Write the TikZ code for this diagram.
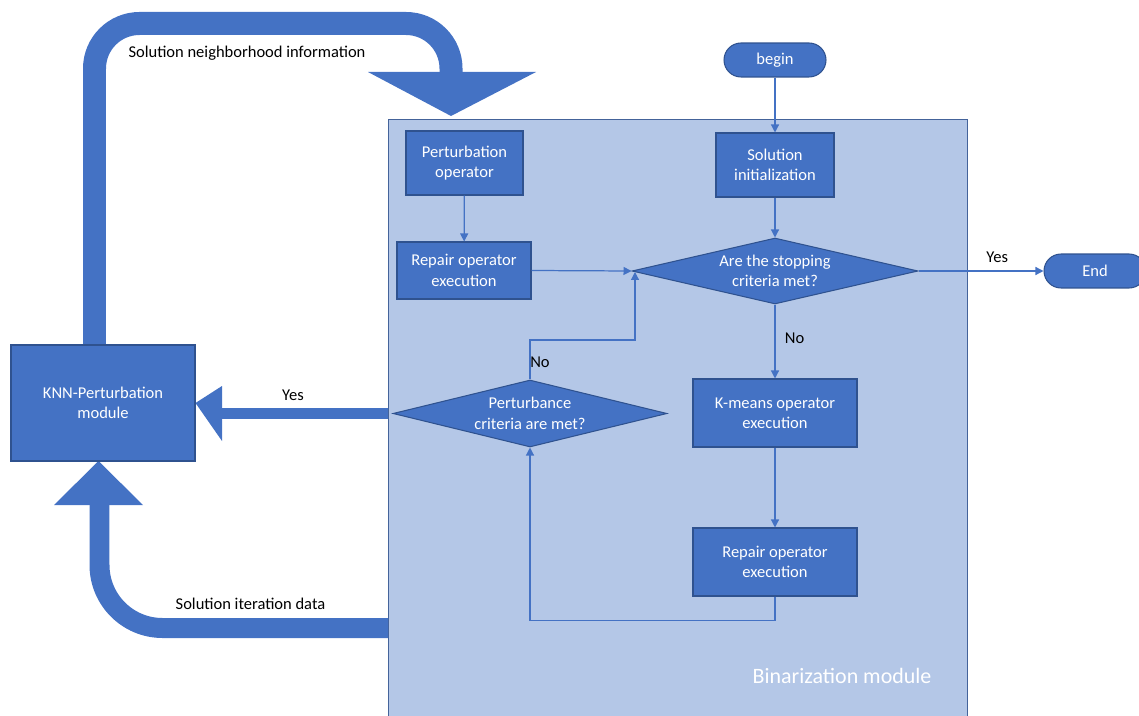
\documentclass[tikz,border=0pt]{standalone}
\usepackage{fontspec}
\setmainfont{Carlito}
\usetikzlibrary{shapes.geometric,arrows.meta,backgrounds}
\definecolor{boxblue}{HTML}{4472C4}
\definecolor{edgeblue}{HTML}{2F528F}
\definecolor{panel}{HTML}{B4C7E7}

\begin{document}
\begin{tikzpicture}[
  x=0.02cm, y=-0.02cm,
  font=\fontsize{9.4}{11.6}\selectfont,
  proc/.style={rectangle, draw=edgeblue, line width=0.6pt, fill=boxblue, text=white, align=center, inner sep=0pt, minimum width=#1},
  term/.style={rectangle, rounded corners=0.34cm, draw=edgeblue, line width=0.6pt, fill=boxblue, text=white, minimum width=2.04cm, minimum height=0.68cm, inner sep=0pt},
  decision/.style={diamond, draw=edgeblue, line width=0.6pt, fill=boxblue, inner sep=0pt, minimum width=#1},
  dtext/.style={text=white, align=center},
  flow/.style={-{Triangle[length=1.6mm,width=1.6mm]}, boxblue, line width=0.7pt},
  band/.style={boxblue, line width=#1},
  lbl/.style={text=black}
]
  \useasboundingbox (0,0) rectangle (1139,716);

  % flowchart nodes
  \node[term] (begin) at (775,60) {begin};
  \node[proc=2.36cm, minimum height=1.28cm] (init) at (775,165) {Solution\\initialization};
  \node[proc=2.34cm, minimum height=1.28cm] (pertop) at (464.5,163) {Perturbation\\operator};
  \node[proc=2.68cm, minimum height=1.14cm] (rep1) at (464,270.5) {Repair operator\\execution};
  \node[decision=5.72cm, minimum height=1.32cm] (stop) at (775,271) {};
  \node[dtext] at (stop) {Are the stopping\\criteria met?};
  \node[term] (end) at (1095,271) {End};
  \node[proc=3.28cm, minimum height=1.36cm] (kmeans) at (775,413) {K-means operator\\execution};
  \node[proc=3.28cm, minimum height=1.36cm] (rep2) at (775,562) {Repair operator\\execution};
  \node[decision=5.48cm, minimum height=1.34cm] (pert) at (530,413.5) {};
  \node[dtext] at (pert) {Perturbance\\criteria are met?};
  \node[proc=3.68cm, minimum height=2.32cm] (knn) at (103,403) {KNN-Perturbation\\module};
  \coordinate (stopin) at (635,272);

  % thin connectors
  \draw[flow] (begin) -- (init);
  \draw[flow] (init) -- (stop);
  \draw[flow] (pertop) -- (rep1);
  \draw[flow] (rep1.east) -- (stop.west);
  \draw[flow] (pert.north) |- (635,340) -- (stopin);
  \draw[flow] (stop.east) -- node[lbl, pos=0.63, above=1pt] {Yes} (end.west);
  \draw[flow] (stop.south) -- node[lbl, pos=0.45, right=2pt] {No} (kmeans.north);
  \draw[flow] (kmeans) -- (rep2);
  \draw[flow] (rep2.south) -- ++(0,24) -| (pert.south);
  \node[lbl] (no2) at (540,362) {No};

  \begin{scope}[on background layer]
    \node[rectangle, draw=edgeblue!90, line width=0.8pt, fill=panel, minimum width=11.58cm, minimum height=12.4cm, anchor=north west, inner sep=0pt] (bin) at (388,119) {};
    % wide arrows
    \draw[band=0.46cm, rounded corners=0.9cm] (knn.north -| 94.5,0) -- (94.5,23.5) -- (451,23.5) -- (451,73);
    \fill[boxblue] (368,72) -- (536,72) -- (451,116) -- cycle;
    \draw[band=0.40cm, rounded corners=1.26cm] (bin.west |- 0,628) -- (99.5,628) -- (99.5,504);
    \fill[boxblue] (54,505) -- (143,505) -- (98.5,461) -- cycle;
    \draw[band=0.22cm] (bin.west |- 0,413.5) -- (221,413.5);
    \fill[boxblue] (222,386) -- (222,441) -- (knn.east) -- cycle;
  \end{scope}

  \node[lbl] (nbinfo) at (247,53) {Solution neighborhood information};
  \node[lbl] (iterdata) at (250.5,604) {Solution iteration data};
  \node[lbl] (yes1) at (293,395) {Yes};
  \node[text=white, font=\fontsize{12.5}{15}\selectfont] (binlabel) at (842,676) {Binarization module};
\end{tikzpicture}
\end{document}
